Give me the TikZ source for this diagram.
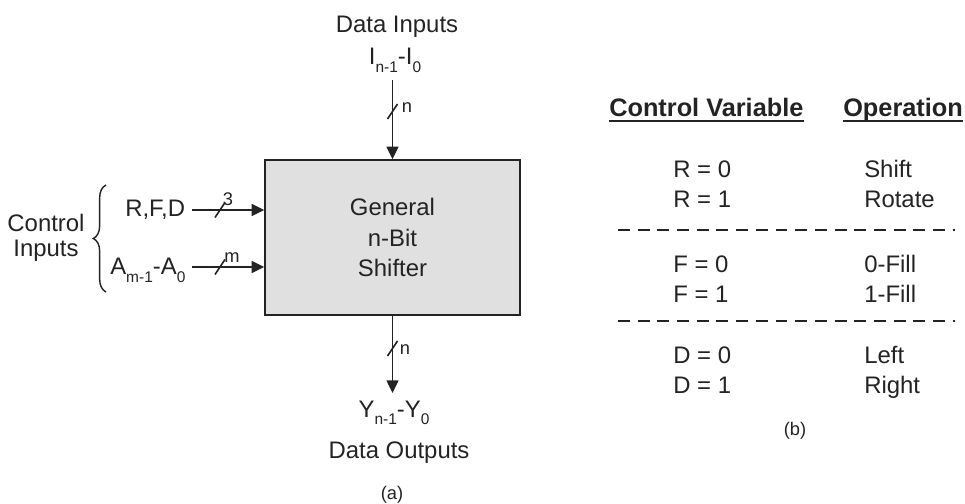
\documentclass[tikz,border=0pt]{standalone}
\usepackage{fontspec}
\setmainfont{Liberation Sans}
\usepackage{tikz}
\usetikzlibrary{arrows.meta, positioning, calc, decorations.pathreplacing}
\definecolor{mydark}{RGB}{35,35,35}
\definecolor{boxgray}{RGB}{224,224,224}
\newcommand{\lowsub}[1]{\raisebox{-5pt}{\fontsize{11}{12}\selectfont #1}}
\tikzset{
  shifterblock/.style={rectangle, draw=mydark, fill=boxgray,
    minimum width=6.375cm, minimum height=3.875cm, align=center,
    font=\fontsize{17}{22}\selectfont, text=mydark, line width=1pt},
  txt/.style={font=\fontsize{17}{20}\selectfont, text=mydark, inner sep=0pt},
  hdr/.style={font=\fontsize{18}{20}\selectfont\bfseries, text=mydark, inner sep=0pt},
  small/.style={font=\fontsize{13}{15}\selectfont, text=mydark, inner sep=0pt},
  caption/.style={font=\fontsize{13}{15}\selectfont, text=mydark, inner sep=0pt},
  busarrow/.style={-{Triangle[length=9pt, width=8.5pt]}, line width=1.1pt, color=mydark},
  busslash/.style={line width=1.1pt, color=mydark},
  sepline/.style={line width=1pt, color=mydark, dash pattern=on 8.5pt off 5.5pt},
  underbar/.style={line width=1.1pt, color=mydark},
  ctrlbrace/.style={decorate, decoration={brace, amplitude=9pt}, line width=1pt, color=mydark}
}
\begin{document}
\begin{tikzpicture}[x=0.025cm, y=-0.025cm]
  \useasboundingbox (0,0) rectangle (965,504);

  % Shifter block
  \node[shifterblock] (shifter) at (392.5,237.5) {General\\n-Bit\\Shifter};

  % Data inputs
  \node[txt, anchor=base] (data_in) at (397,33) {Data Inputs};
  \node[txt, anchor=base] (in_bus) at (395,65) {I\lowsub{n-1}-I\lowsub{0}};
  \coordinate (in_top) at (392.5,80);
  \draw[busarrow] (in_top) -- (shifter.north);
  \draw[busslash] (387.5,119) -- (397.5,104);
  \node[small] (w_in) at (407,108) {n};

  % Control inputs
  \node[txt, anchor=base west] (rfd) at (125,217) {R,F,D};
  \node[txt, anchor=base west] (addr) at (110,275) {A\lowsub{m-1}-A\lowsub{0}};
  \coordinate (rfd_out) at (192,210);
  \coordinate (addr_out) at (192,267);
  \draw[busarrow] (rfd_out) -- (rfd_out -| shifter.west);
  \draw[busarrow] (addr_out) -- (addr_out -| shifter.west);
  \draw[busslash] (215,217.5) -- (225,202.5);
  \node[small] (w_rfd) at (228,199) {3};
  \draw[busslash] (215,274.5) -- (225,259.5);
  \node[small] (w_addr) at (232,258) {m};
  \coordinate (brace_lo) at (106,292);
  \coordinate (brace_hi) at (106,185);
  \draw[ctrlbrace] (brace_lo) -- (brace_hi);
  \node[txt, align=center, font=\fontsize{17}{17.5}\selectfont] (ctrl) at (46,238) {Control\\Inputs};

  % Data outputs
  \coordinate (out_end) at (392.5,393);
  \draw[busarrow] (shifter.south) -- (out_end);
  \draw[busslash] (387.5,356) -- (397.5,341);
  \node[small] (w_out) at (405,350) {n};
  \node[txt, anchor=base] (out_bus) at (394,417) {Y\lowsub{n-1}-Y\lowsub{0}};
  \node[txt, anchor=base] (data_out) at (399,458) {Data Outputs};
  \node[caption] (cap_a) at (392,495) {(a)};

  % Table of control variables
  \node[hdr, anchor=base west] (hdr_var) at (609,117) {Control Variable};
  \node[hdr, anchor=base west] (hdr_op) at (843,117) {Operation};
  \draw[underbar] ($(hdr_var.base west)+(0,4)$) -- ($(hdr_var.base east)+(0,4)$);
  \draw[underbar] ($(hdr_op.base west)+(0,4)$) -- ($(hdr_op.base east)+(0,4)$);

  \node[txt, anchor=base west] (r_zero) at (673,178) {R = 0};
  \node[txt, anchor=base west] (r_one) at (673,208) {R = 1};
  \node[txt, anchor=base west] (op_shift) at (864,178) {Shift};
  \node[txt, anchor=base west] (op_rotate) at (864,208) {Rotate};
  \coordinate (sep1_l) at (618,230);
  \coordinate (sep1_r) at (955,230);
  \draw[sepline] (sep1_l) -- (sep1_r);

  \node[txt, anchor=base west] (f_zero) at (673,272) {F = 0};
  \node[txt, anchor=base west] (f_one) at (673,302) {F = 1};
  \node[txt, anchor=base west] (op_zfill) at (864,272) {0-Fill};
  \node[txt, anchor=base west] (op_ofill) at (864,302) {1-Fill};
  \coordinate (sep2_l) at (618,321);
  \coordinate (sep2_r) at (955,321);
  \draw[sepline] (sep2_l) -- (sep2_r);

  \node[txt, anchor=base west] (d_zero) at (673,363) {D = 0};
  \node[txt, anchor=base west] (d_one) at (673,393) {D = 1};
  \node[txt, anchor=base west] (op_left) at (864,363) {Left};
  \node[txt, anchor=base west] (op_right) at (864,393) {Right};
  \node[caption] (cap_b) at (795,431) {(b)};
\end{tikzpicture}
\end{document}
